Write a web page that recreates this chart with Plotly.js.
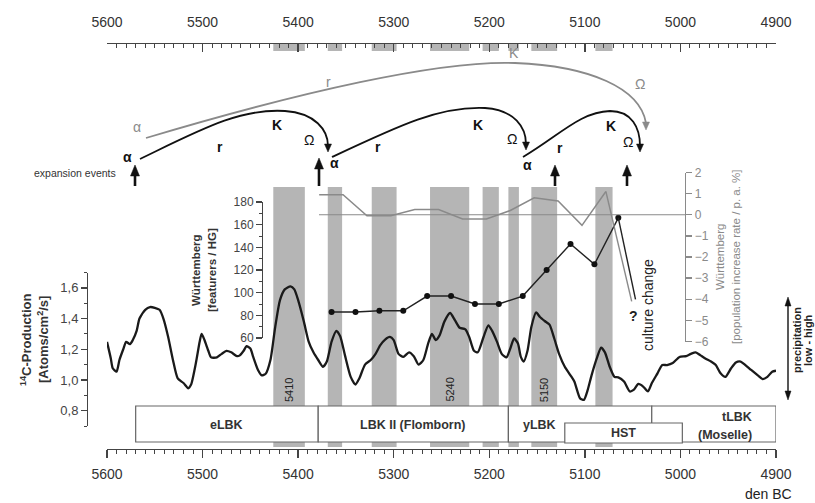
<!DOCTYPE html>
<html>
<head>
<meta charset="utf-8">
<script src="https://cdn.plot.ly/plotly-3.0.1.min.js"></script>
<style>html,body{margin:0;padding:0;background:#fff;}#chart{width:815px;height:503px;}</style>
</head>
<body>
<div id="chart"></div>
<script>
// ---------------- DATA ----------------
// 14C production curve
const c14Years = [5600,5596,5594,5590,5587,5583,5580,5576,5573,5569,5566,5560,5555,5550,5545,5541,5536,5531,5526,5520,5515,5512,5507,5503,5501,5498,5494,5491,5485,5480,5475,5470,5464,5461,5457,5454,5450,5447,5442,5438,5434,5429,5424,5419,5414,5408,5404,5400,5394,5389,5384,5379,5374,5370,5365,5360,5356,5351,5345,5340,5336,5330,5324,5319,5314,5309,5304,5300,5295,5290,5284,5279,5274,5269,5264,5260,5256,5252,5247,5241,5236,5231,5225,5221,5216,5212,5206,5201,5197,5192,5187,5182,5178,5174,5170,5167,5164,5160,5156,5151,5147,5142,5137,5132,5127,5121,5115,5111,5105,5101,5097,5093,5087,5083,5079,5074,5069,5065,5059,5053,5049,5044,5039,5034,5030,5024,5019,5014,5008,5001,4994,4989,4984,4979,4974,4968,4963,4958,4953,4947,4942,4937,4932,4926,4919,4914,4909,4904,4900];
const c14Values = [1.248,1.14,1.076,1.054,1.13,1.20,1.248,1.233,1.26,1.32,1.40,1.457,1.475,1.47,1.457,1.40,1.28,1.13,1.01,0.98,0.946,0.97,1.11,1.25,1.30,1.26,1.19,1.147,1.147,1.17,1.19,1.18,1.155,1.16,1.19,1.22,1.205,1.15,1.065,1.03,1.04,1.13,1.345,1.52,1.59,1.61,1.59,1.52,1.38,1.25,1.18,1.13,1.086,1.12,1.25,1.32,1.285,1.16,1.02,0.97,1.01,1.10,1.13,1.17,1.227,1.263,1.28,1.26,1.17,1.15,1.18,1.155,1.10,1.13,1.237,1.30,1.26,1.29,1.38,1.436,1.39,1.34,1.33,1.28,1.19,1.18,1.28,1.356,1.32,1.25,1.17,1.147,1.205,1.27,1.237,1.15,1.12,1.19,1.345,1.44,1.41,1.384,1.36,1.27,1.17,1.086,1.03,0.99,0.88,0.87,0.935,1.03,1.15,1.21,1.18,1.086,1.02,1.017,0.99,0.925,0.935,0.974,0.957,0.925,0.978,1.043,1.097,1.097,1.11,1.15,1.155,1.17,1.18,1.16,1.14,1.12,1.097,1.043,1.02,1.076,1.114,1.12,1.097,1.065,1.03,1.006,1.02,1.054,1.06];

// Württemberg features / HG
const featYears = [5365,5340,5315,5290,5265,5240,5215,5190,5165,5140,5115,5090,5065];
const featValues = [83,83,84,84,97,97,90,90,97,120,143,125,166];

// Württemberg population increase rate (% p.a.)
const rateYears = [5378,5353,5328,5303,5278,5253,5228,5203,5178,5153,5128,5103,5078];
const rateValues = [0.95,0.95,-0.05,-0.05,0.25,0.25,-0.2,-0.2,0.2,0.8,0.65,-0.5,1.1];

// grey event bars (years BC)
const barStart = [5426,5369,5323,5262,5207,5180,5156,5089];
const barEnd   = [5393,5354,5297,5221,5190,5169,5129,5071];
const barLabel = ['5410','','','5240','','','5150',''];

// cultural periods
const periodName  = ['eLBK','LBK II (Flomborn)','yLBK','tLBK','HST'];
const periodStart = [5570,5379,5180,5030,5121];
const periodEnd   = [5379,5180,5030,4900,4998];

// culture change end points
const cultureEndYear = [5047,5051];
const cultureEndVal  = [94,-4.1];

// axis tick settings
const yearTicks = [5600,5500,5400,5300,5200,5100,5000,4900];

// ---------------- LAYOUT HELPERS ----------------
const ML=20, MT=20, W=815-40, H=503-40;
const PX = p => (p-ML)/W;
const PY = p => (MT+H-p)/H;
const FONT = 'Liberation Sans, Arial, Helvetica, sans-serif';
function path(cmds){
  return cmds.map(c => c[0] + ' ' + c.slice(1).reduce((a,v,i)=>{a.push(i%2===0?PX(v).toFixed(5):PY(v).toFixed(5));return a;},[]).join(' ')).join(' ');
}

const traces = [
  {x:c14Years, y:c14Values, xaxis:'x', yaxis:'y', mode:'lines', line:{color:'#1a1a1a', width:2.3, shape:'spline', smoothing:0.6}, hoverinfo:'skip', showlegend:false},
  {x:featYears, y:featValues, xaxis:'x', yaxis:'y2', mode:'lines+markers', line:{color:'#222', width:1.4}, marker:{color:'#111', size:6}, showlegend:false},
  {x:rateYears, y:rateValues, xaxis:'x', yaxis:'y3', mode:'lines', line:{color:'#8a8a8a', width:1.5}, showlegend:false},
  {x:[5600,4900], y:[0.5,0.5], xaxis:'x2', yaxis:'y', mode:'markers', marker:{opacity:0}, showlegend:false, hoverinfo:'skip'}
];

const shapes = [];
for (let i=0;i<barStart.length;i++){
  shapes.push({type:'rect', xref:'x', yref:'paper', x0:barStart[i], x1:barEnd[i], y0:PY(447), y1:PY(187), fillcolor:'#b5b5b5', line:{width:0}, layer:'below'});
  shapes.push({type:'rect', xref:'x', yref:'paper', x0:barStart[i], x1:barEnd[i], y0:PY(51), y1:PY(43), fillcolor:'#b5b5b5', line:{width:0}, layer:'below'});
}
for (let i=0;i<periodName.length;i++){
  const isHST = periodName[i]==='HST';
  shapes.push({type:'rect', xref:'x', yref:'paper', x0:periodStart[i], x1:periodEnd[i],
    y0:PY(isHST?443:442), y1:PY(isHST?423:406), fillcolor:'#fff', line:{color:'#666', width:1.2}, layer:'above'});
}
shapes.push({type:'line', xref:'paper', yref:'y3', x0:PX(319), x1:PX(685), y0:0, y1:0, line:{color:'#8a8a8a', width:1.2}});
shapes.push({type:'line', xref:'x', yref:'y2', x0:featYears[featYears.length-1], y0:featValues[featValues.length-1], x1:cultureEndYear[0], y1:cultureEndVal[0], line:{color:'#222', width:1.4}});
shapes.push({type:'line', xref:'x', yref:'y3', x0:rateYears[rateYears.length-1], y0:rateValues[rateValues.length-1], x1:cultureEndYear[1], y1:cultureEndVal[1], line:{color:'#8a8a8a', width:1.4}});

const grey='#8a8a8a';
shapes.push({type:'path', xref:'paper', yref:'paper', path:path([['M',146,138],['C',300,92,440,60,515,63],['C',590,66,640,88,646,123]]), line:{color:grey,width:1.8}});
shapes.push({type:'path', xref:'paper', yref:'paper', path:path([['M',140,159],['C',200,130,240,108,285,111],['C',315,113,328,130,328,146]]), line:{color:'#111',width:1.8}});
shapes.push({type:'path', xref:'paper', yref:'paper', path:path([['M',332,157],['C',400,125,440,106,485,108],['C',515,110,526,128,526,144]]), line:{color:'#111',width:1.8}});
shapes.push({type:'path', xref:'paper', yref:'paper', path:path([['M',523,157],['C',560,135,580,112,610,111],['C',632,111,640,128,640,146]]), line:{color:'#111',width:1.8}});
function headDown(x,y,c){
  shapes.push({type:'path', xref:'paper', yref:'paper', path:path([['M',x,y],['L',x-3.5,y-8],['L',x+3.5,y-8]])+' Z', fillcolor:c, line:{color:c,width:0.5}});
}
headDown(646,130,grey); headDown(328,152,'#111'); headDown(526,150,'#111'); headDown(640,152,'#111');
[135,319,555,627].forEach((x,i)=>{
  const tip = i===1?158:165;
  shapes.push({type:'line', xref:'paper', yref:'paper', x0:PX(x), x1:PX(x), y0:PY(186), y1:PY(tip+8), line:{color:'#111', width:2.6}});
  shapes.push({type:'path', xref:'paper', yref:'paper', path:path([['M',x,tip],['L',x-4.5,tip+11],['L',x+4.5,tip+11]])+' Z', fillcolor:'#111', line:{color:'#111',width:0.5}});
});
shapes.push({type:'line', xref:'paper', yref:'paper', x0:PX(788), x1:PX(788), y0:PY(304), y1:PY(393), line:{color:'#111', width:1.4}});
shapes.push({type:'path', xref:'paper', yref:'paper', path:path([['M',788,297],['L',785,306],['L',791,306]])+' Z', fillcolor:'#111', line:{color:'#111',width:0.5}});
shapes.push({type:'path', xref:'paper', yref:'paper', path:path([['M',788,400],['L',785,391],['L',791,391]])+' Z', fillcolor:'#111', line:{color:'#111',width:0.5}});

const ann = [];
function txt(px,py,t,o){ o=o||{}; ann.push(Object.assign({xref:'paper', yref:'paper', x:PX(px), y:PY(py), text:t, showarrow:false, xanchor:'center', yanchor:'middle',
  font:{family:FONT, size:o.size||13, color:o.color||'#111', weight:o.weight||'normal'}}, o.extra||{})); }
const G={color:grey,size:14};
txt(137,127,'α',G); txt(328,82,'r',G); txt(514,53,'K',G); txt(640,84,'Ω',G);
const B={size:14, weight:'bold'};
txt(127,157,'α',B); txt(220,147,'r',B); txt(277,125,'K',B); txt(309,140,'Ω',{size:14});
txt(334,163,'α',B); txt(378,147,'r',B); txt(478,125,'K',B); txt(512,139,'Ω',{size:14});
txt(527,165,'α',B); txt(560,148,'r',B); txt(611,126,'K',B); txt(628,142,'Ω',{size:14});
txt(75,173,'expansion events',{size:10.5,color:'#333'});
txt(26,340,'<sup>14</sup>C-Production',{size:13,weight:'bold',color:'#333',extra:{textangle:-90}});
txt(43,340,'[Atoms/cm<sup>2</sup>/s]',{size:13,weight:'bold',color:'#333',extra:{textangle:-90}});
txt(196,270,'Württemberg',{size:11.5,weight:'bold',color:'#333',extra:{textangle:-90}});
txt(212,270,'[featurers / HG]',{size:11.5,weight:'bold',color:'#333',extra:{textangle:-90}});
txt(720,257,'Württemberg',{size:11.5,color:grey,extra:{textangle:-90}});
txt(736,257,'[population increase rate / p. a. %]',{size:11.5,color:grey,extra:{textangle:-90}});
txt(648,305,'culture change',{size:14,color:'#222',extra:{textangle:-90}});
txt(633,316,'?',{size:14,weight:'bold',color:'#222'});
txt(797,340,'precipitation',{size:11,weight:'bold',color:'#222',extra:{textangle:-90}});
txt(808,340,'low - high',{size:11,weight:'bold',color:'#222',extra:{textangle:-90}});
txt(768,494,'den BC',{size:14,color:'#222'});
for (let i=0;i<barLabel.length;i++){
  if(!barLabel[i]) continue;
  ann.push({xref:'x', yref:'paper', x:(barStart[i]+barEnd[i])/2, y:PY(390), text:barLabel[i], showarrow:false, textangle:-90,
    xanchor:'center', yanchor:'middle', font:{family:FONT,size:11,color:'#222'}});
}
const periodLabelPos = [[425,0],[425,0],[425,-41],[417,23],[433,0]];
for (let i=0;i<periodName.length;i++){
  const mid=(periodStart[i]+periodEnd[i])/2;
  ann.push({xref:'x', yref:'paper', x:mid, xshift:periodLabelPos[i][1], y:PY(periodLabelPos[i][0]), text:periodName[i], showarrow:false,
    xanchor:'center', yanchor:'middle', font:{family:FONT,size:12.5,color:'#333',weight:'bold'}});
}
ann.push({xref:'x', yref:'paper', x:(periodStart[3]+periodEnd[3])/2, xshift:11, y:PY(435), text:'(Moselle)', showarrow:false,
  xanchor:'center', yanchor:'middle', font:{family:FONT,size:12.5,color:'#333',weight:'bold'}});

const axCol='#444';
const layout = {
  width:815, height:503, margin:{l:ML, r:40-ML, t:MT, b:40-MT},
  paper_bgcolor:'#fff', plot_bgcolor:'rgba(0,0,0,0)',
  font:{family:FONT, color:'#333'},
  separators:', ',
  showlegend:false,
  xaxis:{domain:[PX(107),PX(776)], range:[5600,4900], anchor:'free', position:PY(449), showgrid:false, zeroline:false,
    showline:true, linecolor:axCol, linewidth:1.3, ticks:'outside', ticklen:8, tickwidth:1.3, tickcolor:axCol,
    tickvals:yearTicks, tickformat:'d', tickfont:{size:14,color:'#333'}, ticklabelstandoff:4,
    minor:{dtick:10, tick0:0, ticks:'outside', ticklen:4, tickwidth:1, tickcolor:axCol, showgrid:false}},
  xaxis2:{overlaying:'x', side:'top', range:[5600,4900], anchor:'free', position:PY(43), showgrid:false, zeroline:false,
    showline:true, linecolor:axCol, linewidth:1.3, ticks:'inside', ticklen:8, tickwidth:1.3, tickcolor:axCol,
    tickvals:yearTicks, tickformat:'d', tickfont:{size:14,color:'#333'}, ticklabelstandoff:10,
    minor:{dtick:10, tick0:0, ticks:'inside', ticklen:4, tickwidth:1, tickcolor:axCol, showgrid:false}},
  yaxis:{domain:[PY(426),PY(272.5)], range:[0.7,1.7], anchor:'free', position:PX(87), side:'left', showgrid:false, zeroline:false,
    showline:true, linecolor:axCol, linewidth:1.3, ticks:'outside', ticklen:6, tickwidth:1.3, tickcolor:axCol,
    dtick:0.2, tick0:0, tickformat:'.1f', tickfont:{size:13,color:'#444'},
    minor:{dtick:0.1, ticks:'outside', ticklen:3, tickwidth:1, tickcolor:axCol, showgrid:false}},
  yaxis2:{domain:[PY(338),PY(202)], range:[60,180], anchor:'free', position:PX(262), side:'left', showgrid:false, zeroline:false,
    showline:true, linecolor:axCol, linewidth:1.3, ticks:'outside', ticklen:6, tickwidth:1.3, tickcolor:axCol,
    dtick:20, tick0:0, tickfont:{size:12,color:'#444'},
    minor:{dtick:10, ticks:'outside', ticklen:3, tickwidth:1, tickcolor:axCol, showgrid:false}},
  yaxis3:{domain:[PY(341.5),PY(172.5)], range:[-6,2], anchor:'free', position:PX(685), side:'right', showgrid:false, zeroline:false,
    showline:true, linecolor:grey, linewidth:1.3, ticks:'outside', ticklen:6, tickwidth:1.3, tickcolor:grey,
    dtick:1, tick0:0, tickfont:{size:12,color:grey}},
  shapes:shapes,
  annotations:ann
};
Plotly.newPlot('chart', traces, layout, {staticPlot:true, displayModeBar:false});
</script>
</body>
</html>
